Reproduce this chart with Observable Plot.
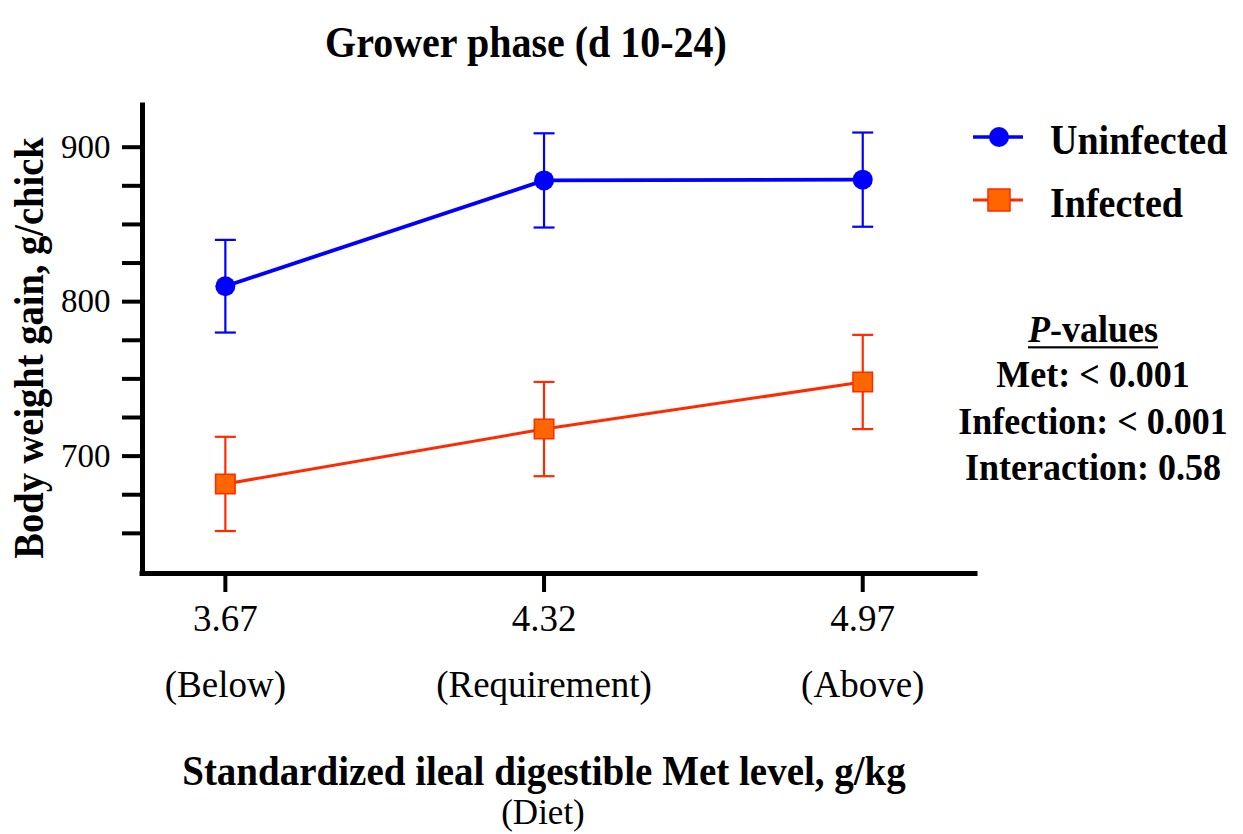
<!DOCTYPE html>
<html><head><meta charset="utf-8">
<script src="https://cdn.jsdelivr.net/npm/d3@7"></script>
<script src="https://cdn.jsdelivr.net/npm/@observablehq/plot@0.6"></script>
<style>
body{margin:0;background:#fff;}
#wrap{position:relative;width:1243px;height:834px;font-family:"Liberation Serif","Times New Roman",serif;color:#000;overflow:hidden;}
.abs{position:absolute;white-space:nowrap;}
</style></head><body><div id="wrap"></div>
<script>
// ---- data ----
const metLevels = [3.67, 4.32, 4.97];
const metLabels = ["(Below)", "(Requirement)", "(Above)"];
const groups = ["Uninfected", "Infected"];
const uninfectedMean = [810, 878.5, 879];
const uninfectedSE = [30, 30.5, 30.5];
const infectedMean = [682, 717.5, 748];
const infectedSE = [30.5, 30.5, 30.5];
const yMajorTicks = [700, 800, 900];
const yMinorTicks = [650, 675, 725, 750, 775, 825, 850, 875];
const pValueLines = ["Met: < 0.001", "Infection: < 0.001", "Interaction: 0.58"];

const blue = "#0000ff", red = "#ff2a00", orange = "#ff6600";
const xDomain = [3.501, 5.200], yDomain = [624, 927];

const unRows = metLevels.map((m, i) => ({met: m, mean: uninfectedMean[i], se: uninfectedSE[i], group: groups[0]}));
const inRows = metLevels.map((m, i) => ({met: m, mean: infectedMean[i], se: infectedSE[i], group: groups[1]}));

const capSymbol = {draw(ctx, size) { const w = Math.sqrt(size / Math.PI); ctx.moveTo(-w, 0); ctx.lineTo(w, 0); }};

function errMarks(rows, color) {
  return [
    Plot.ruleX(rows, {x: "met", y1: d => d.mean - d.se, y2: d => d.mean + d.se, stroke: color, strokeWidth: 2.2}),
    Plot.dot(rows, {x: "met", y: d => d.mean + d.se, symbol: capSymbol, r: 10.5, stroke: color, strokeWidth: 2.2, fill: "none"}),
    Plot.dot(rows, {x: "met", y: d => d.mean - d.se, symbol: capSymbol, r: 10.5, stroke: color, strokeWidth: 2.2, fill: "none"})
  ];
}

const W = 1243, H = 834;
const chart = Plot.plot({
  width: W, height: H,
  marginLeft: 142, marginRight: 268, marginTop: 105, marginBottom: 261,
  style: {fontFamily: "'Liberation Serif','Times New Roman',serif", background: "#fff", color: "#000", overflow: "visible"},
  x: {domain: xDomain, axis: null, label: null},
  y: {domain: yDomain, axis: null, label: null},
  marks: [
    Plot.axisY({ticks: yMinorTicks, tickSize: 20, strokeWidth: 4, tickFormat: () => "", label: null}),
    Plot.axisY({ticks: yMajorTicks, tickSize: 20, tickPadding: 12, strokeWidth: 4, fontSize: 33, tickFormat: d => String(d), label: null}),
    Plot.axisX({ticks: metLevels, tickSize: 19, tickPadding: 12, strokeWidth: 4, fontSize: 37, tickFormat: d => d.toFixed(2), label: null}),
    Plot.text(metLevels, {x: d => d, text: (d, i) => metLabels[i], frameAnchor: "bottom", lineAnchor: "middle", dy: 112, fontSize: 37}),
    Plot.ruleX([xDomain[0]], {strokeWidth: 5, strokeLinecap: "square"}),
    Plot.ruleY([yDomain[0]], {strokeWidth: 5, strokeLinecap: "square"}),
    ...errMarks(unRows, blue),
    ...errMarks(inRows, red),
    Plot.line(unRows, {x: "met", y: "mean", stroke: blue, strokeWidth: 3.8}),
    Plot.line(inRows, {x: "met", y: "mean", stroke: red, strokeWidth: 3}),
    Plot.dot(unRows, {x: "met", y: "mean", r: 10, fill: blue, symbol: "circle"}),
    Plot.dot(inRows, {x: "met", y: "mean", r: 11, symbol: "square", fill: orange, stroke: red, strokeWidth: 1.5})
  ]
});

const wrap = document.getElementById("wrap");
chart.style.position = "absolute";
chart.style.left = "0px";
chart.style.top = "0px";
wrap.appendChild(chart);

function addDiv(html, css) {
  const d = document.createElement("div");
  d.className = "abs";
  d.innerHTML = html;
  Object.assign(d.style, css);
  wrap.appendChild(d);
  return d;
}
// title
addDiv("Grower phase (d 10-24)", {left: "0px", width: "1052px", top: "22px", textAlign: "center", fontWeight: "bold", fontSize: "40px", lineHeight: "40px", transform: "scaleY(1.12)"});
// y-axis title
addDiv("Body weight gain, g/chick", {left: "28.5px", top: "348px", transform: "translate(-50%,-50%) rotate(-90deg) scaleY(1.08)", fontWeight: "bold", fontSize: "38.5px", lineHeight: "38.5px"});
// x-axis title
addDiv("Standardized ileal digestible Met level, g/kg", {left: "0px", width: "1088px", top: "751px", textAlign: "center", fontWeight: "bold", fontSize: "39px", lineHeight: "39px", transform: "scaleY(1.08)"});
addDiv("(Diet)", {left: "0px", width: "1086px", top: "795px", textAlign: "center", fontSize: "35px", lineHeight: "36px"});

// legend
const legendItems = [
  {label: groups[0], top: 121, svg: `<svg width="52" height="30" style="vertical-align:middle"><line x1="1" y1="15" x2="51" y2="15" stroke="${blue}" stroke-width="3.5"/><circle cx="27" cy="15" r="10" fill="${blue}"/></svg>`},
  {label: groups[1], top: 184, svg: `<svg width="52" height="30" style="vertical-align:middle"><line x1="1" y1="15" x2="51" y2="15" stroke="${red}" stroke-width="3"/><rect x="16" y="4" width="22" height="22" fill="${orange}" stroke="${red}" stroke-width="1.5"/></svg>`}
];
legendItems.forEach(it => {
  addDiv(it.svg, {left: "972px", top: (it.top + 1) + "px", lineHeight: "0"});
  addDiv(it.label, {left: "1050px", top: it.top + "px", fontWeight: "bold", fontSize: "38px", lineHeight: "38px", transform: "scaleY(1.1)"});
});

// p-values
addDiv(`<span style="text-decoration:underline;text-underline-offset:4px;text-decoration-thickness:2px"><i>P</i>-values</span>`,
  {left: "943px", width: "300px", top: "308px", textAlign: "center", fontWeight: "bold", fontSize: "36px", lineHeight: "43px", transform: "scaleY(1.08)"});
addDiv(pValueLines.join("<br>"),
  {left: "943px", width: "300px", top: "357px", textAlign: "center", fontWeight: "bold", fontSize: "36px", lineHeight: "43px", transform: "scaleY(1.08)"});
</script></body></html>
